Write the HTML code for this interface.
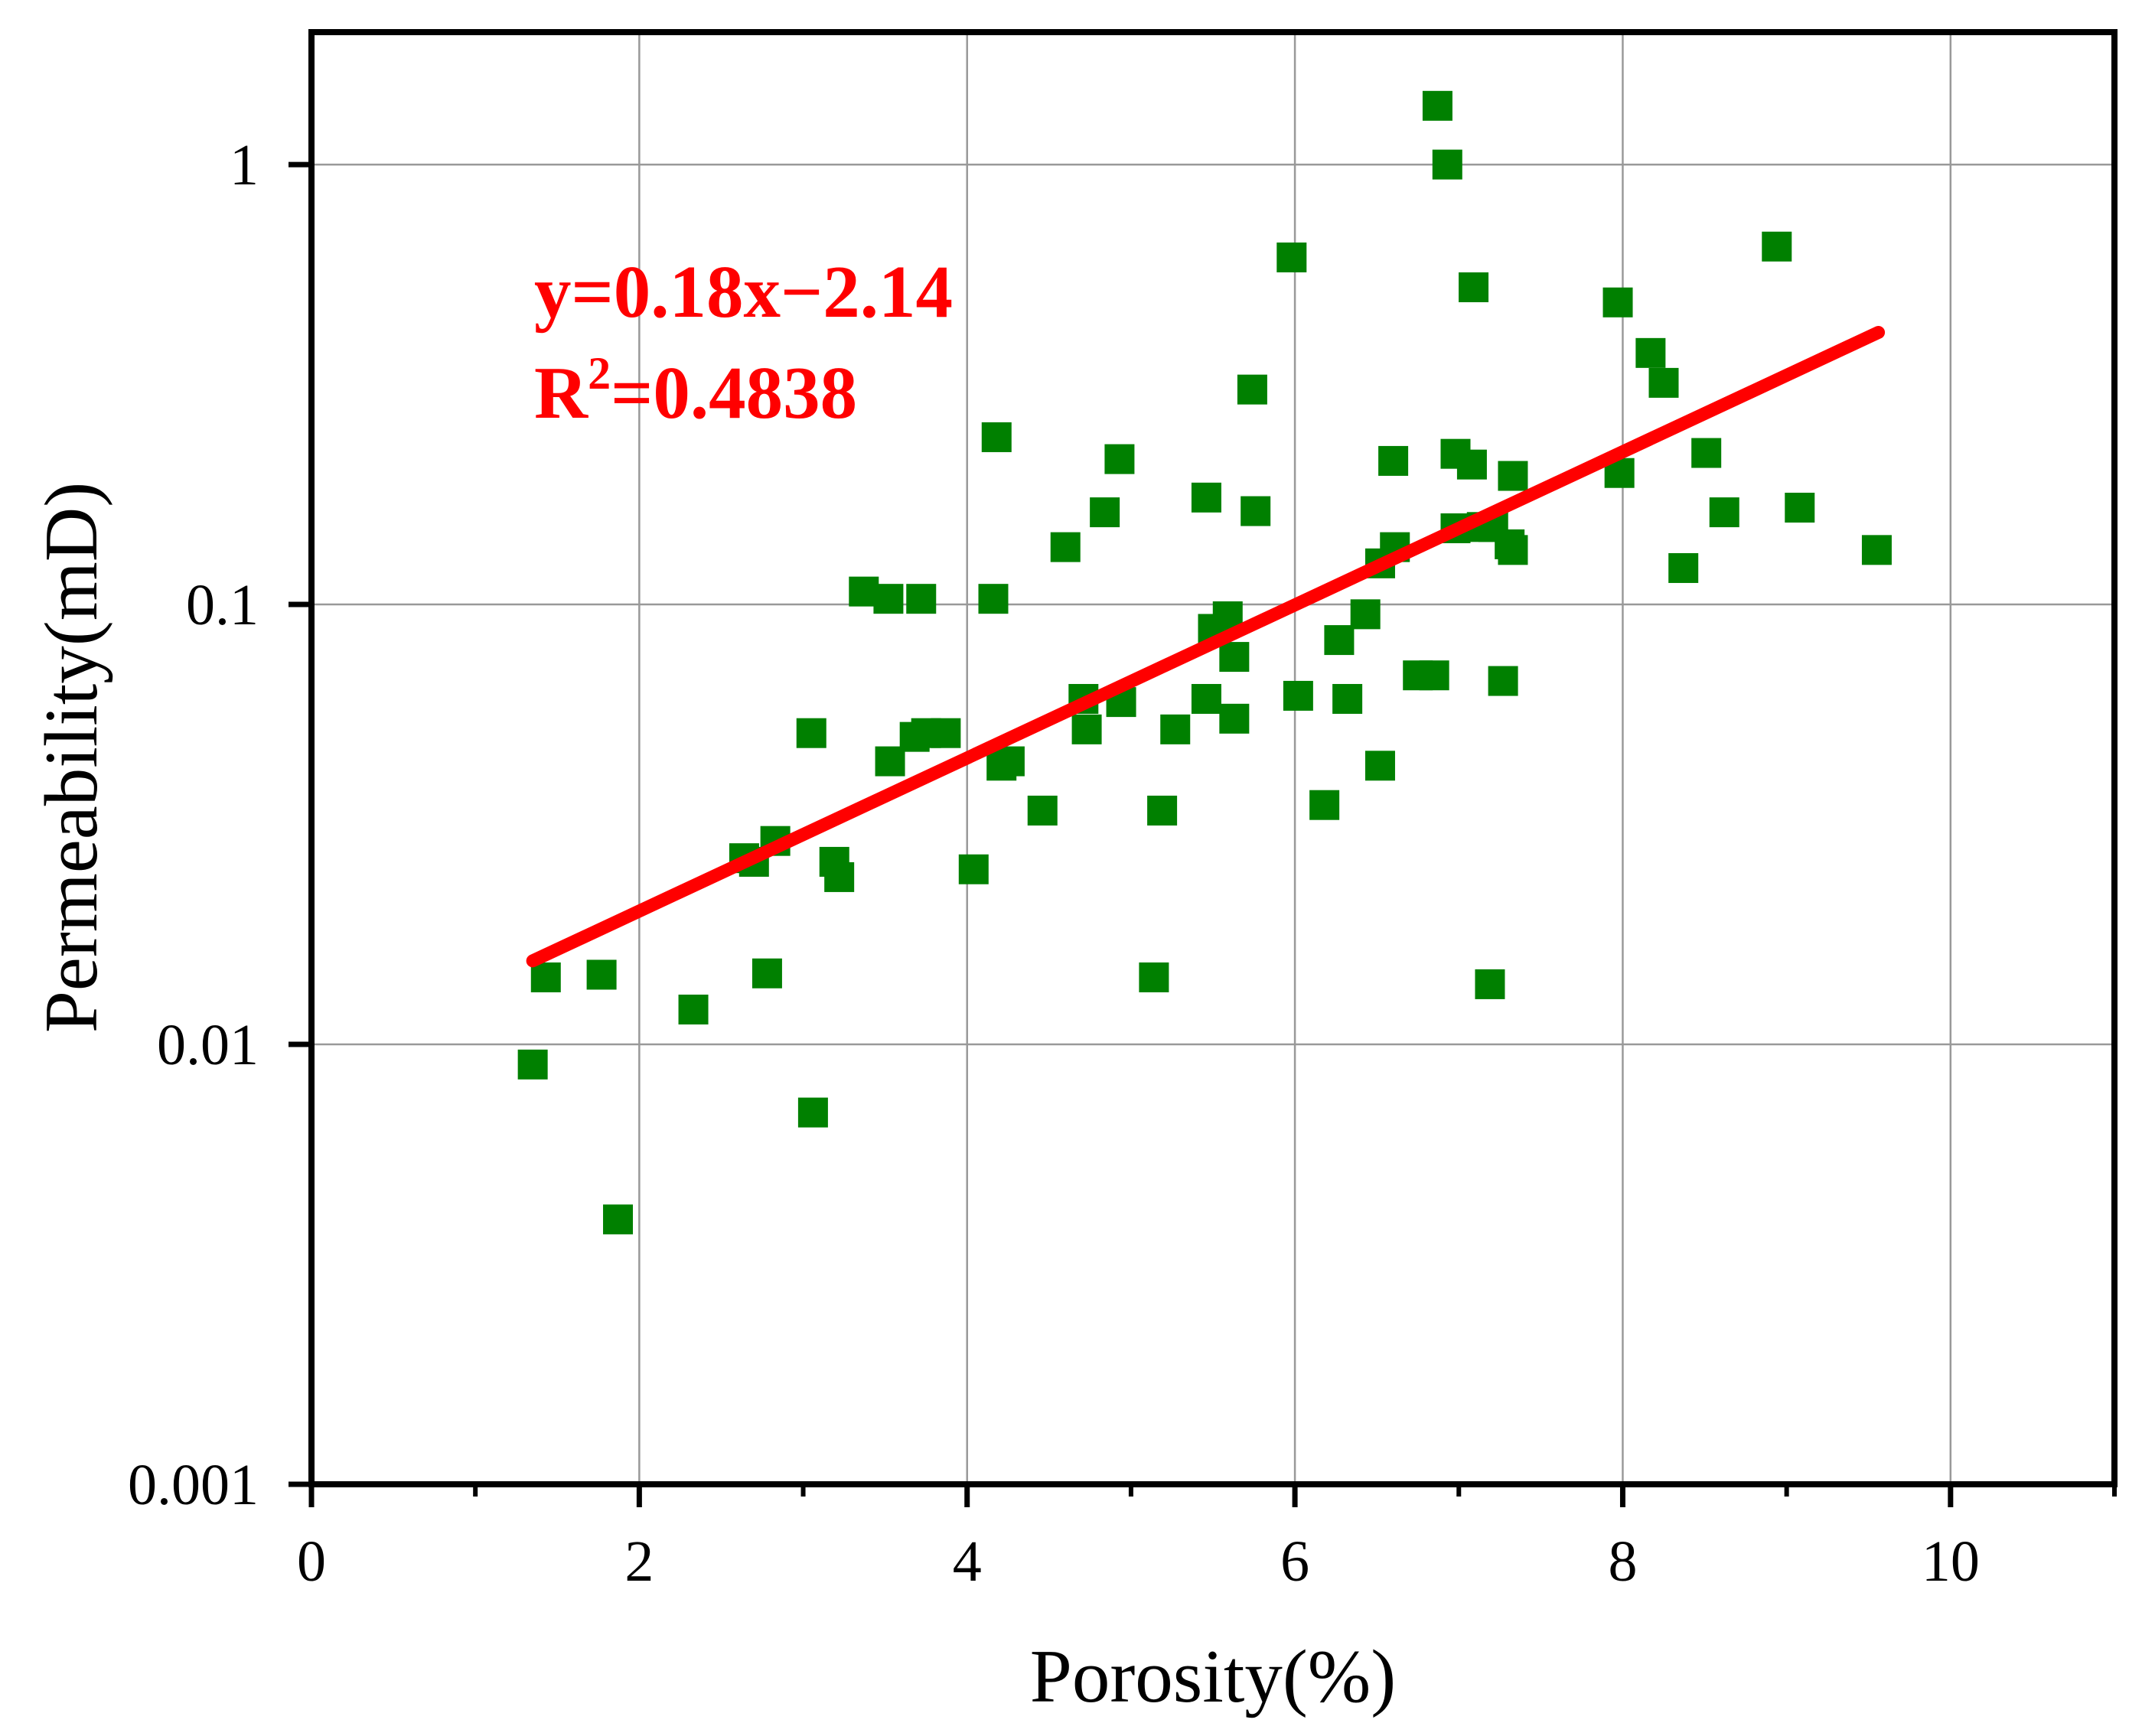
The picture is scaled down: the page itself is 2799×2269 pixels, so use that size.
<!DOCTYPE html>
<html><head><meta charset="utf-8"><style>
html,body{margin:0;padding:0;background:#fff;}
svg{display:block;font-family:"Liberation Serif",serif;}
</style></head><body>
<svg id="chart" width="2799" height="2269" viewBox="0 0 2799 2269"></svg>
<script>
const porosity=[1.35,1.43,1.77,1.87,2.33,2.64,2.7,2.83,2.78,3.05,3.06,3.19,3.22,3.37,3.52,3.53,3.68,3.72,3.75,3.87,4.04,4.16,4.18,4.21,4.26,4.46,4.6,4.71,4.73,4.84,4.93,4.94,5.14,5.19,5.27,5.46,5.46,5.5,5.59,5.63,5.63,5.74,5.76,5.98,6.02,6.18,6.27,6.32,6.43,6.52,6.52,6.6,6.61,6.75,6.85,6.87,6.93,6.98,6.98,7.08,7.09,7.14,7.19,7.21,7.27,7.31,7.33,7.33,7.97,7.98,8.17,8.25,8.37,8.51,8.62,8.94,9.08,9.55];
const permeability=[0.009,0.0142,0.0144,0.004,0.012,0.0265,0.026,0.029,0.0145,0.051,0.007,0.026,0.024,0.107,0.103,0.044,0.05,0.103,0.051,0.051,0.025,0.103,0.24,0.043,0.044,0.034,0.135,0.061,0.052,0.162,0.214,0.06,0.0142,0.034,0.052,0.175,0.061,0.088,0.094,0.076,0.055,0.308,0.163,0.615,0.062,0.035,0.083,0.061,0.095,0.124,0.043,0.212,0.135,0.069,0.069,1.36,1.0,0.22,0.149,0.208,0.526,0.15,0.0137,0.15,0.067,0.137,0.133,0.196,0.486,0.199,0.373,0.319,0.121,0.221,0.162,0.651,0.166,0.133];
const fitLine=[1.35,9.56];
const fitSlope=0.174, fitIntercept=-2.045;
const xTicks=[0,2,4,6,8,10];
const xMinorTicks=[1,3,5,7,9,11];
const yTicks=[0.001,0.01,0.1,1];
const yTickLabels=["0.001","0.01","0.1","1"];

const NS="http://www.w3.org/2000/svg";
const svg=document.getElementById('chart');
const L=407,R=2763,T=42,B=1940;
const xMin=0,xMax=11,yLogMin=-3,yLogMax=Math.log10(2);
const sx=v=>L+(v-xMin)/(xMax-xMin)*(R-L);
const sy=v=>B-(Math.log10(v)-yLogMin)/(yLogMax-yLogMin)*(B-T);
function mk(tag,attrs,parent){const e=document.createElementNS(NS,tag);for(const k in attrs)e.setAttribute(k,attrs[k]);(parent||svg).appendChild(e);return e;}

xTicks.forEach(v=>{ if(v===0) return;
  const g=mk('line',{x1:sx(v),x2:sx(v),y1:T,y2:B,stroke:'#999','stroke-width':2.5});
  
  
});
yTicks.forEach(v=>{ if(v===0.001) return;
  const g=mk('line',{x1:L,x2:R,y1:sy(v),y2:sy(v),stroke:'#999','stroke-width':2.5});
  
  
});

const pts=mk('g',{});


const S=39;
porosity.forEach((x,i)=>{
  const r=mk('rect',{x:sx(x)-S/2,y:sy(permeability[i])-S/2,width:S,height:S,fill:'#008000'},pts);
  
  
});

const fl=mk('line',{x1:sx(fitLine[0]),y1:sy(Math.pow(10,fitSlope*fitLine[0]+fitIntercept)),x2:sx(fitLine[1]),y2:sy(Math.pow(10,fitSlope*fitLine[1]+fitIntercept)),stroke:'#ff0000','stroke-width':17,'stroke-linecap':'round'});



const fr=mk('rect',{x:L,y:T,width:R-L,height:B-T,fill:'none',stroke:'#000','stroke-width':8});



xTicks.forEach(v=>{
  const t=mk('line',{x1:sx(v),x2:sx(v),y1:B,y2:B+30,stroke:'#000','stroke-width':7});
  
  
  const tx=mk('text',{x:sx(v),y:2066,'font-size':76,'text-anchor':'middle',fill:'#000'});
  tx.textContent=v;
  
  
});
xMinorTicks.forEach(v=>{
  const t=mk('line',{x1:sx(v),x2:sx(v),y1:B,y2:B+16,stroke:'#000','stroke-width':6});
  
  
});
yTicks.forEach((v,i)=>{
  const t=mk('line',{x1:L-30,x2:L,y1:sy(v),y2:sy(v),stroke:'#000','stroke-width':7});
  
  
  const tx=mk('text',{x:338,y:sy(v)+26,'font-size':76,'text-anchor':'end',fill:'#000'});
  tx.textContent=yTickLabels[i];
  
  
});

const xt=mk('text',{x:1585,y:2224,'font-size':99,'text-anchor':'middle',fill:'#000'});
xt.textContent='Porosity(%)';


const yt=mk('text',{x:0,y:0,'font-size':99,'text-anchor':'middle',fill:'#000',transform:'translate(126,990) rotate(-90)'});
yt.textContent='Permeability(mD)';



const a1=mk('text',{x:698,y:414,'font-size':97,'font-weight':'bold',fill:'#ff0000'});
a1.textContent='y=0.18x\u22122.14';


const a2=mk('text',{x:698,y:546,'font-size':97,'font-weight':'bold',fill:'#ff0000'});
a2.innerHTML='R<tspan dy="-38" font-size="60">2</tspan><tspan dy="38">=0.4838</tspan>';


</script>
</body></html>
